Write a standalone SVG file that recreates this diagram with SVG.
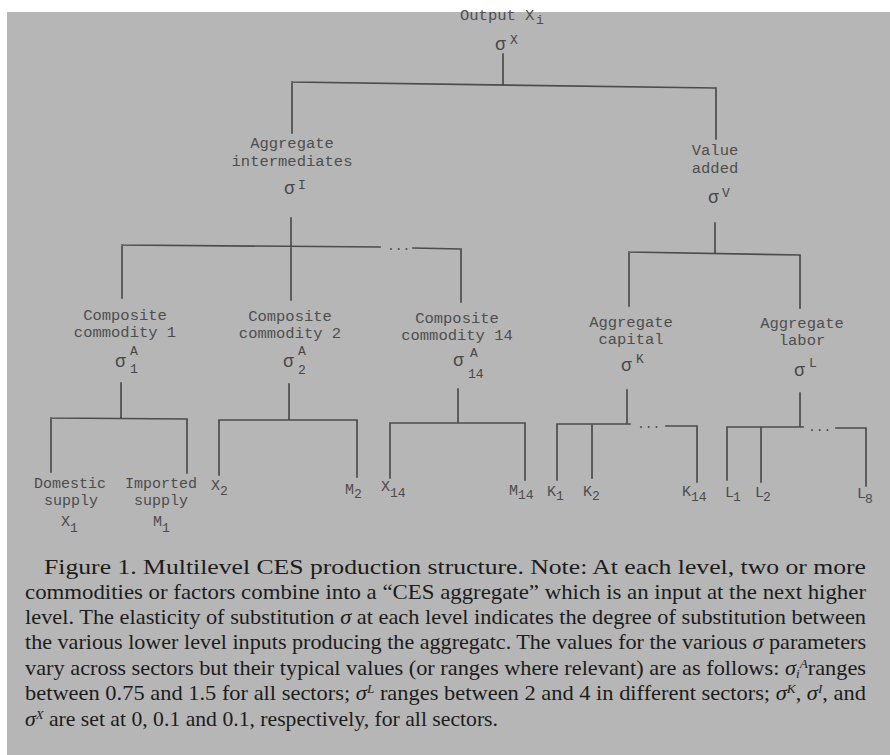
<svg xmlns="http://www.w3.org/2000/svg" width="890" height="755" viewBox="0 0 890 755">
<style>
.bg{fill:#b6b6b6}
.t{font-family:"Liberation Mono","DejaVu Sans Mono",monospace;font-size:15.5px;fill:#4e4e4e}
.s{font-family:"Liberation Mono","DejaVu Sans Mono",monospace;font-size:18px;fill:#484848}
.sup{font-size:13px}
.lab{font-family:"Liberation Mono","DejaVu Sans Mono",monospace;font-size:15px;fill:#4c4c4c}
.sub{font-size:13px}
.dots{font-family:"Liberation Mono","DejaVu Sans Mono",monospace;font-size:13px;fill:#484848}
.ln{fill:none;stroke:#4c4c4c;stroke-width:1.7;stroke-linecap:square}
.cap{font-family:"Liberation Serif","Times New Roman",serif;font-size:22px;fill:#1c1c1c}
.i{font-style:italic}
.cs{font-size:13px;font-style:italic}
</style>
<rect x="0" y="0" width="890" height="755" fill="#ffffff"/>
<rect class="bg" x="7" y="12" width="883" height="743"/>

<g id="connectors">
  <path class="ln" d="M503 54 V84 M292 82 L716 88 M292 82 V133 M716 88 V139"/>
  <path class="ln" d="M291 218 V300 M122 245 L380 247 M413 248 L461 249 M122 245 V298 M461 249 V302"/>
  <path class="ln" d="M715 223 V253 M629 252 L800 255 M629 252 V306 M800 255 V308"/>
  <path class="ln" d="M121 383 V418 M51 418 L187 419 M51 418 V472 M187 419 V473"/>
  <path class="ln" d="M289 384 V420 M219 420 L357 420 M219 420 V475 M357 420 V477"/>
  <path class="ln" d="M458 389 V423 M390 423 L525 423 M390 423 V478 M525 423 V480"/>
  <path class="ln" d="M627 390 V424 M557 424 L630 424 M666 426 L697 426 M557 424 V480 M592 424 V478 M697 426 V482"/>
  <path class="ln" d="M800 393 V427 M727 427 L803 427 M836 428 L866 428 M727 427 V480 M761 427 V482 M866 428 V486"/>
  <text class="dots" x="387" y="250">...</text>
  <text class="dots" x="637" y="428">...</text>
  <text class="dots" x="808" y="431">...</text>
</g>

<g id="n-output">
  <text class="t" x="460" y="20">Output X<tspan class="sub" x="536" y="24">i</tspan></text>
  <text class="s" x="495" y="50">σ<tspan class="sup" x="510" y="44">X</tspan></text>
</g>
<g id="n-intermediates">
  <text class="t" x="292" y="148" text-anchor="middle">Aggregate</text>
  <text class="t" x="292" y="166" text-anchor="middle">intermediates</text>
  <text class="s" x="284" y="194">σ<tspan class="sup" x="298" y="189">I</tspan></text>
</g>
<g id="n-value">
  <text class="t" x="715" y="155" text-anchor="middle">Value</text>
  <text class="t" x="715" y="173" text-anchor="middle">added</text>
  <text class="s" x="708" y="203">σ<tspan class="sup" x="722" y="197">V</tspan></text>
</g>
<g id="n-cc1">
  <text class="t" x="125" y="320" text-anchor="middle">Composite</text>
  <text class="t" x="125" y="337" text-anchor="middle">commodity 1</text>
  <text class="s" x="115" y="367">σ<tspan class="sup" x="130" y="355">A</tspan><tspan class="sup" x="130" y="373">1</tspan></text>
</g>
<g id="n-cc2">
  <text class="t" x="290" y="321" text-anchor="middle">Composite</text>
  <text class="t" x="290" y="338" text-anchor="middle">commodity 2</text>
  <text class="s" x="283" y="367">σ<tspan class="sup" x="298" y="355">A</tspan><tspan class="sup" x="298" y="374">2</tspan></text>
</g>
<g id="n-cc14">
  <text class="t" x="457" y="323" text-anchor="middle">Composite</text>
  <text class="t" x="457" y="340" text-anchor="middle">commodity 14</text>
  <text class="s" x="453" y="366">σ<tspan class="sup" x="470" y="357">A</tspan><tspan class="sup" x="468" y="378">14</tspan></text>
</g>
<g id="n-capital">
  <text class="t" x="631" y="327" text-anchor="middle">Aggregate</text>
  <text class="t" x="631" y="344" text-anchor="middle">capital</text>
  <text class="s" x="621" y="371">σ<tspan class="sup" x="636" y="363">K</tspan></text>
</g>
<g id="n-labor">
  <text class="t" x="802" y="328" text-anchor="middle">Aggregate</text>
  <text class="t" x="802" y="345" text-anchor="middle">labor</text>
  <text class="s" x="794" y="376">σ<tspan class="sup" x="809" y="367">L</tspan></text>
</g>

<g id="n-domestic">
  <text class="lab" x="70" y="488" text-anchor="middle">Domestic</text>
  <text class="lab" x="71" y="505" text-anchor="middle">supply</text>
  <text class="lab" x="61" y="526">X<tspan class="sub" x="70" y="532">1</tspan></text>
</g>
<g id="n-imported">
  <text class="lab" x="161" y="488" text-anchor="middle">Imported</text>
  <text class="lab" x="161" y="505" text-anchor="middle">supply</text>
  <text class="lab" x="153" y="526">M<tspan class="sub" x="162" y="532">1</tspan></text>
</g>
<g id="n-x2"><text class="lab" x="211" y="490">X<tspan class="sub" x="220" y="495">2</tspan></text></g>
<g id="n-m2"><text class="lab" x="345" y="494">M<tspan class="sub" x="354" y="498">2</tspan></text></g>
<g id="n-x14"><text class="lab" x="381" y="491">X<tspan class="sub" x="390" y="497">14</tspan></text></g>
<g id="n-m14"><text class="lab" x="509" y="495">M<tspan class="sub" x="518" y="499">14</tspan></text></g>
<g id="n-k1"><text class="lab" x="547" y="496">K<tspan class="sub" x="556" y="500">1</tspan></text></g>
<g id="n-k2"><text class="lab" x="583" y="496">K<tspan class="sub" x="592" y="500">2</tspan></text></g>
<g id="n-k14"><text class="lab" x="682" y="496">K<tspan class="sub" x="691" y="501">14</tspan></text></g>
<g id="n-l1"><text class="lab" x="725" y="497">L<tspan class="sub" x="733" y="501">1</tspan></text></g>
<g id="n-l2"><text class="lab" x="755" y="497">L<tspan class="sub" x="763" y="501">2</tspan></text></g>
<g id="n-l8"><text class="lab" x="857" y="498">L<tspan class="sub" x="865" y="503">8</tspan></text></g>

<g id="caption">
  <text class="cap" x="44" y="574" textLength="822" lengthAdjust="spacingAndGlyphs">Figure 1. Multilevel CES production structure. Note: At each level, two or more</text>
  <text class="cap" x="25" y="599" textLength="841" lengthAdjust="spacingAndGlyphs">commodities or factors combine into a “CES aggregate” which is an input at the next higher</text>
  <text class="cap" x="25" y="624" textLength="841" lengthAdjust="spacingAndGlyphs">level. The elasticity of substitution <tspan class="i">σ</tspan> at each level indicates the degree of substitution between</text>
  <text class="cap" x="25" y="649" textLength="841" lengthAdjust="spacingAndGlyphs">the various lower level inputs producing the aggregatc. The values for the various <tspan class="i">σ</tspan> parameters</text>
  <text class="cap" x="25" y="675" textLength="841" lengthAdjust="spacingAndGlyphs">vary across sectors but their typical values (or ranges where relevant) are as follows: <tspan class="i">σ</tspan><tspan class="cs" dy="3">i</tspan><tspan class="cs" dy="-10">A</tspan><tspan dy="7">ranges</tspan></text>
  <text class="cap" x="25" y="700" textLength="841" lengthAdjust="spacingAndGlyphs">between 0.75 and 1.5 for all sectors; <tspan class="i">σ</tspan><tspan class="cs" dy="-7">L</tspan><tspan dy="7"> ranges between 2 and 4 in different sectors; </tspan><tspan class="i">σ</tspan><tspan class="cs" dy="-7">K</tspan><tspan dy="7">, </tspan><tspan class="i">σ</tspan><tspan class="cs" dy="-7">I</tspan><tspan dy="7">, and</tspan></text>
  <text class="cap" x="25" y="726" textLength="473" lengthAdjust="spacingAndGlyphs"><tspan class="i">σ</tspan><tspan class="cs" dy="-7">X</tspan><tspan dy="7"> are set at 0, 0.1 and 0.1, respectively, for all sectors.</tspan></text>
</g>
</svg>
